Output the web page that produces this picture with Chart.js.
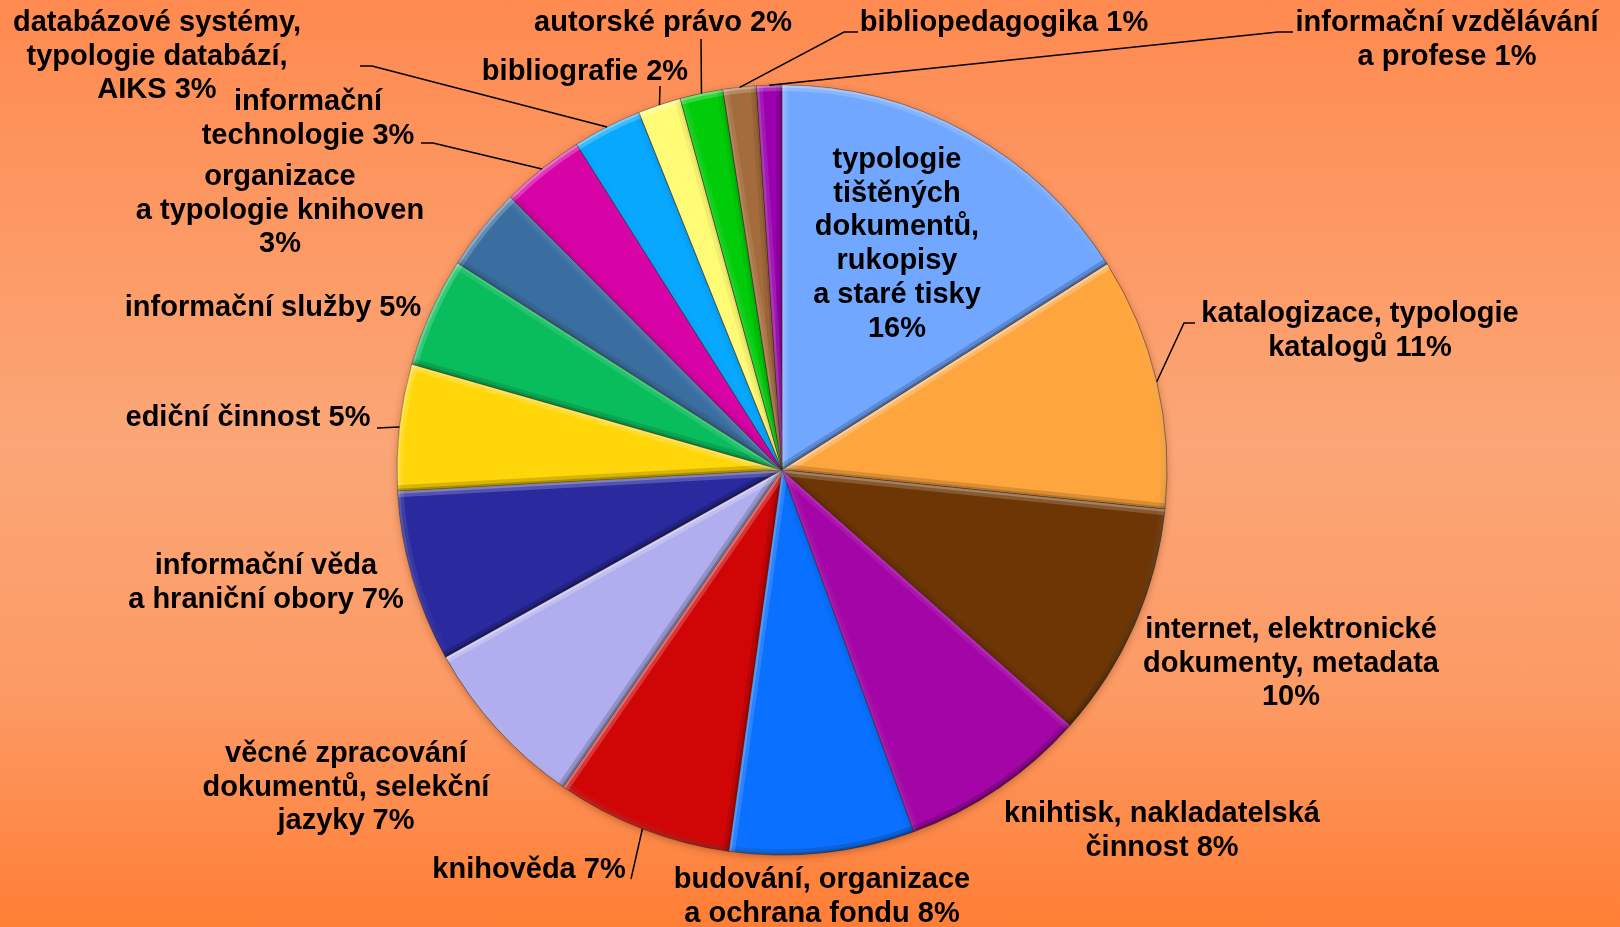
<!DOCTYPE html>
<html>
<head>
<meta charset="utf-8">
<script src="https://cdn.jsdelivr.net/npm/chart.js@4/dist/chart.umd.min.js"></script>
<style>
  html, body { margin: 0; padding: 0; }
  body {
    width: 1620px; height: 927px; overflow: hidden;
    background: linear-gradient(to bottom, #fe8a50 0%, #fba677 48%, #fc9a64 75%, #ff7e35 100%);
  }
  canvas { display: block; }
</style>
</head>
<body>
<canvas id="pieChart" width="1620" height="927"></canvas>
<script>
// topics of the course, clockwise from 12 o'clock
const topics = [
    ['typologie', 'tištěných', 'dokumentů,', 'rukopisy', 'a staré tisky', '16%'],
    ['katalogizace, typologie', 'katalogů 11%'],
    ['internet, elektronické', 'dokumenty, metadata', '10%'],
    ['knihtisk, nakladatelská', 'činnost 8%'],
    ['budování, organizace', 'a ochrana fondu 8%'],
    ['knihověda 7%'],
    ['věcné zpracování', 'dokumentů, selekční', 'jazyky 7%'],
    ['informační věda', 'a hraniční obory 7%'],
    ['ediční činnost 5%'],
    ['informační služby 5%'],
    ['organizace', 'a typologie knihoven', '3%'],
    ['informační', 'technologie 3%'],
    ['databázové systémy,', 'typologie databází,', 'AIKS 3%'],
    ['bibliografie 2%'],
    ['autorské právo 2%'],
    ['bibliopedagogika 1%'],
    ['informační vzdělávání', 'a profese 1%']
];
// share of each topic (%)
const shares = [16.0, 10.6, 9.9, 7.9, 7.75, 7.4, 7.3, 7.2, 5.3, 4.6, 3.5, 3.5, 2.9, 1.8, 1.8, 1.4, 1.05];
const sliceColors = [
    '#72a7ff', '#ffa53d', '#6e3604', '#a405a6', '#0a70ff', '#d00606',
    '#b0aeee', '#2a2a9e', '#ffd60a', '#0abd5c', '#3b6ea0', '#d703a6',
    '#08a8ff', '#fffb74', '#00cc0a', '#a46c3c', '#9a00ae'
];

// where each label sits and how its leader line runs (canvas px)
const labelLayout = [
    { x: 897, y: 160 },
    { x: 1360, y: 314, leader: [[1195, 323], [1184, 323]] },
    { x: 1291, y: 630 },
    { x: 1162, y: 814 },
    { x: 822, y: 880 },
    { x: 529, y: 870, leader: [[631, 879]] },
    { x: 346, y: 754 },
    { x: 266, y: 566 },
    { x: 248, y: 418, leader: [[377, 428]] },
    { x: 273, y: 308 },
    { x: 280, y: 177 },
    { x: 308, y: 102, leader: [[421, 143], [433, 143]] },
    { x: 157, y: 23, leader: [[360, 66], [372, 66]] },
    { x: 585, y: 72, leader: [[660, 86]] },
    { x: 663, y: 23, leader: [[701, 39]] },
    { x: 1004, y: 23, leader: [[858, 32], [844, 32]] },
    { x: 1447, y: 23, leader: [[1293, 32], [1278, 32]] }
];
const lineGap = 33.7;
const lightAngle = -2.1; // light comes from the upper left

function arcPath(ctx, a) {
    ctx.beginPath();
    ctx.moveTo(a.x, a.y);
    ctx.arc(a.x, a.y, a.outerRadius, a.startAngle, a.endAngle);
    ctx.closePath();
}

function shadeColor(s, alpha) {
    return s >= 0 ? `rgba(255,255,255,${(s * alpha).toFixed(3)})` : `rgba(0,0,0,${(-s * alpha * 0.8).toFixed(3)})`;
}

// radial edge of a slice, coloured by how much it faces the light
function strokeEdge(ctx, a, ang, normal, width, alpha) {
    const s = Math.cos(normal - lightAngle);
    ctx.strokeStyle = shadeColor(s, alpha);
    ctx.lineWidth = width;
    ctx.beginPath();
    ctx.moveTo(a.x, a.y);
    ctx.lineTo(a.x + Math.cos(ang) * a.outerRadius, a.y + Math.sin(ang) * a.outerRadius);
    ctx.stroke();
}

// soft shadow under the pie and a bevel on every slice
const bevelPlugin = {
    id: 'bevel',
    beforeDatasetsDraw(chart) {
        const a = chart.getDatasetMeta(0).data[0];
        const ctx = chart.ctx;
        ctx.save();
        ctx.shadowColor = 'rgba(90, 30, 0, 0.45)';
        ctx.shadowBlur = 8;
        ctx.shadowOffsetY = 2;
        ctx.fillStyle = '#b06030';
        ctx.beginPath();
        ctx.arc(a.x, a.y, a.outerRadius - 1, 0, Math.PI * 2);
        ctx.fill();
        ctx.restore();
    },
    afterDatasetsDraw(chart) {
        const ctx = chart.ctx;
        const arcs = chart.getDatasetMeta(0).data;
        const c = arcs[0];
        const lx = Math.cos(lightAngle) * c.outerRadius, ly = Math.sin(lightAngle) * c.outerRadius;
        arcs.forEach(a => {
            [[12, 0.22], [5, 0.3]].forEach(([w, alpha]) => {
                ctx.save();
                arcPath(ctx, a);
                ctx.clip();
                // outer rim
                const g = ctx.createLinearGradient(a.x + lx, a.y + ly, a.x - lx, a.y - ly);
                g.addColorStop(0, shadeColor(1, alpha));
                g.addColorStop(0.5, 'rgba(255,255,255,0)');
                g.addColorStop(1, shadeColor(-1, alpha));
                ctx.strokeStyle = g;
                ctx.lineWidth = w;
                ctx.beginPath();
                ctx.arc(a.x, a.y, a.outerRadius, a.startAngle, a.endAngle);
                ctx.stroke();
                // the two straight sides
                strokeEdge(ctx, a, a.startAngle, a.startAngle - Math.PI / 2, w, alpha);
                strokeEdge(ctx, a, a.endAngle, a.endAngle + Math.PI / 2, w, alpha);
                ctx.restore();
            });
        });
    }
};

// category labels with leader lines
const labelPlugin = {
    id: 'sliceLabels',
    afterDraw(chart) {
        const ctx = chart.ctx;
        const arcs = chart.getDatasetMeta(0).data;
        ctx.save();
        ctx.strokeStyle = '#000';
        ctx.lineWidth = 1.5;
        arcs.forEach((a, i) => {
            const lay = labelLayout[i];
            if (!lay.leader) return;
            const mid = (a.startAngle + a.endAngle) / 2;
            ctx.beginPath();
            lay.leader.forEach((p, k) => k ? ctx.lineTo(p[0], p[1]) : ctx.moveTo(p[0], p[1]));
            ctx.lineTo(a.x + Math.cos(mid) * a.outerRadius, a.y + Math.sin(mid) * a.outerRadius);
            ctx.stroke();
        });
        ctx.fillStyle = '#000';
        ctx.font = 'bold 29px "Liberation Sans", Arial, sans-serif';
        ctx.textAlign = 'center';
        ctx.textBaseline = 'middle';
        topics.forEach((lines, i) => {
            const lay = labelLayout[i];
            lines.forEach((t, k) => ctx.fillText(t, lay.x, lay.y + k * lineGap));
        });
        ctx.restore();
    }
};

const ctx = document.getElementById('pieChart').getContext('2d');
new Chart(ctx, {
    type: 'pie',
    data: {
        labels: topics.map(l => l.join(' ')),
        datasets: [{
            data: shares,
            backgroundColor: sliceColors,
            borderColor: 'rgba(50, 25, 10, 0.5)',
            borderWidth: 1
        }]
    },
    options: {
        responsive: false,
        animation: false,
        radius: 385,
        layout: { padding: { left: 397, right: 453, top: 85, bottom: 72 } },
        plugins: {
            legend: { display: false },
            tooltip: { enabled: false }
        }
    },
    plugins: [bevelPlugin, labelPlugin]
});
</script>
</body>
</html>
